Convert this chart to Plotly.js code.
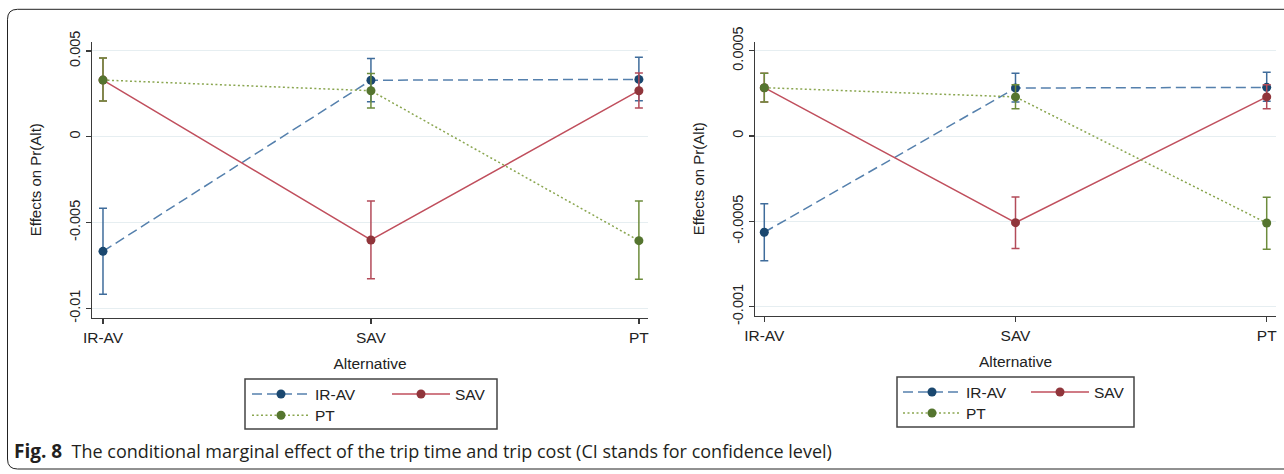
<!DOCTYPE html>
<html>
<head>
<meta charset="utf-8">
<script src="https://cdn.plot.ly/plotly-3.0.1.min.js"></script>
<style>
  html, body { margin: 0; padding: 0; background: #ffffff; }
  #chart { width: 1284px; height: 474px; }
</style>
</head>
<body>
<div id="chart"></div>
<script>
// ---------------- DATA ----------------
const alternatives = ['IR-AV', 'SAV', 'PT'];
const seriesNames = ['IR-AV', 'SAV', 'PT'];

// Left panel: trip time (estimate, lower CI, upper CI at IR-AV, SAV, PT)
const timeIRAV   = [-0.00668, 0.00329, 0.00334];
const timeIRAVLo = [-0.00918, 0.00204, 0.00210];
const timeIRAVHi = [-0.00417, 0.00455, 0.00463];
const timeSAV    = [0.00330, -0.00602, 0.00268];
const timeSAVLo  = [0.00208, -0.00828, 0.00167];
const timeSAVHi  = [0.00459, -0.00375, 0.00371];
const timePT     = [0.00330, 0.00268, -0.00606];
const timePTLo   = [0.00208, 0.00167, -0.00831];
const timePTHi   = [0.00459, 0.00369, -0.00375];

// Right panel: trip cost
const costIRAV   = [-0.000564, 0.000281, 0.000285];
const costIRAVLo = [-0.000731, 0.000199, 0.000203];
const costIRAVHi = [-0.000397, 0.000367, 0.000373];
const costSAV    = [0.000283, -0.000508, 0.000229];
const costSAVLo  = [0.000199, -0.000660, 0.000160];
const costSAVHi  = [0.000367, -0.000357, 0.000300];
const costPT     = [0.000283, 0.000229, -0.000510];
const costPTLo   = [0.000199, 0.000160, -0.000664];
const costPTHi   = [0.000367, 0.000300, -0.000359];

const timeTickVals = [-0.01, -0.005, 0, 0.005];
const timeTickText = ['-0.01', '-0.005', '0', '0.005'];
const costTickVals = [-0.001, -0.0005, 0, 0.0005];
const costTickText = ['-0.001', '-0.0005', '0', '0.0005'];

const xTitle = 'Alternative';
const yTitle = 'Effects on Pr(Alt)';
const captionBold = 'Fig. 8';
const captionText = 'The conditional marginal effect of the trip time and trip cost (CI stands for confidence level)';

// ---------------- STYLE ----------------
const W = 1284, H = 474;
const px = v => v / W;
const py = v => 1 - v / H;
const FONT = 'Liberation Sans, Arial, sans-serif';
const TXT = '#222222';

const styles = {
  'IR-AV': { line: '#5580ad', marker: '#1a476f', err: '#3f6c9b', dash: '10px,5px' },
  'SAV':   { line: '#c04f5d', marker: '#90353b', err: '#b34b59', dash: 'solid' },
  'PT':    { line: '#8aa650', marker: '#55752f', err: '#6d8c3c', dash: '2px,2.5px' }
};

function trace(name, y, lo, hi, xa, ya, legend) {
  const s = styles[name];
  return {
    type: 'scatter', mode: 'lines+markers', name: name,
    x: alternatives, y: y, xaxis: xa, yaxis: ya, legend: legend,
    line: { color: s.line, width: 1.5, dash: s.dash },
    marker: { color: s.marker, size: 9, symbol: 'circle' },
    error_y: {
      type: 'data', symmetric: false,
      array: hi.map((h, i) => h - y[i]),
      arrayminus: y.map((v, i) => v - lo[i]),
      color: s.err, thickness: 1.5, width: 4
    },
    cliponaxis: false, hoverinfo: 'skip'
  };
}

const data = [
  trace(seriesNames[0], timeIRAV, timeIRAVLo, timeIRAVHi, 'x', 'y', 'legend'),
  trace(seriesNames[1], timeSAV, timeSAVLo, timeSAVHi, 'x', 'y', 'legend'),
  trace(seriesNames[2], timePT, timePTLo, timePTHi, 'x', 'y', 'legend3'),
  trace(seriesNames[0], costIRAV, costIRAVLo, costIRAVHi, 'x2', 'y2', 'legend2'),
  trace(seriesNames[1], costSAV, costSAVLo, costSAVHi, 'x2', 'y2', 'legend2'),
  trace(seriesNames[2], costPT, costPTLo, costPTHi, 'x2', 'y2', 'legend4')
];

const axisBase = {
  showline: true, linecolor: '#3a3a3a', linewidth: 1.5,
  ticks: 'outside', ticklen: 5, tickwidth: 1.5, tickcolor: '#3a3a3a',
  automargin: false, fixedrange: true
};

function xAxis(domain, range, anchor) {
  return Object.assign({}, axisBase, {
    domain: domain, range: range, anchor: anchor,
    type: 'category', categoryorder: 'array', categoryarray: alternatives,
    showgrid: false, zeroline: false,
    tickfont: { family: FONT, size: 15.5, color: TXT },
    title: { text: xTitle, font: { family: FONT, size: 15.5, color: TXT }, standoff: 13 }
  });
}
function yAxis(domain, range, anchor, vals, text) {
  return Object.assign({}, axisBase, {
    domain: domain, range: range, anchor: anchor,
    tickvals: vals, ticktext: text, tickangle: -90,
    showgrid: true, gridcolor: '#e6eef1', gridwidth: 1, zeroline: false,
    tickfont: { family: FONT, size: 14.5, color: TXT },
    title: { text: yTitle, font: { family: FONT, size: 15, color: TXT }, standoff: 21 }
  });
}

function legendCfg(x, yTop, entryWidth) {
  return {
    x: px(x), xanchor: 'left', y: py(yTop), yanchor: 'top',
    orientation: 'h', entrywidth: entryWidth, entrywidthmode: 'pixels', itemwidth: 58,
    bgcolor: 'rgba(0,0,0,0)', borderwidth: 0, tracegroupgap: 0,
    font: { family: FONT, size: 15.5, color: TXT }, itemclick: false, itemdoubleclick: false
  };
}

// outer rounded frame
const fl = 7.5, ft = 9.3, fb = 469, r = 10;
const framePath = 'M ' + px(W + 10) + ',' + py(ft) +
  ' L ' + px(fl + r) + ',' + py(ft) +
  ' Q ' + px(fl) + ',' + py(ft) + ' ' + px(fl) + ',' + py(ft + r) +
  ' L ' + px(fl) + ',' + py(fb - r) +
  ' Q ' + px(fl) + ',' + py(fb) + ' ' + px(fl + r) + ',' + py(fb) +
  ' L ' + px(W + 10) + ',' + py(fb);

const layout = {
  width: W, height: H,
  margin: { l: 0, r: 0, t: 0, b: 0 },
  paper_bgcolor: '#ffffff', plot_bgcolor: '#ffffff',
  showlegend: true,
  font: { family: FONT, color: TXT },
  xaxis: xAxis([px(92), px(648)], [-0.041, 2.034], 'y'),
  yaxis: yAxis([py(317.7), py(41.7)], [-0.010548, 0.005536], 'x', timeTickVals, timeTickText),
  xaxis2: xAxis([px(755), px(1276)], [-0.037, 2.037], 'y2'),
  yaxis2: yAxis([py(315.7), py(41.7)], [-0.0010531, 0.0005526], 'x2', costTickVals, costTickText),
  legend: legendCfg(247, 377.4, 67),
  legend3: legendCfg(247, 398.7, 67),
  legend2: legendCfg(898, 375.4, 55),
  legend4: legendCfg(898, 396.4, 55),
  shapes: [
    { type: 'path', xref: 'paper', yref: 'paper', path: framePath, line: { color: '#222', width: 1 } },
    { type: 'rect', xref: 'paper', yref: 'paper', x0: px(245), x1: px(497), y0: py(429), y1: py(379), line: { color: '#444', width: 1.5 } },
    { type: 'rect', xref: 'paper', yref: 'paper', x0: px(897), x1: px(1134), y0: py(427), y1: py(377), line: { color: '#444', width: 1.5 } }
  ],
  annotations: [
    {
      xref: 'paper', yref: 'paper', x: px(12), y: py(451), xanchor: 'left', yanchor: 'middle',
      showarrow: false, align: 'left',
      text: '<b><span style="font-size:19px">' + captionBold + '</span></b>\u00a0\u00a0' + captionText,
      font: { family: 'Open Sans, sans-serif', size: 18, color: '#231f20' }
    }
  ]
};

Plotly.newPlot('chart', data, layout, { staticPlot: true, displayModeBar: false });
</script>
</body>
</html>
